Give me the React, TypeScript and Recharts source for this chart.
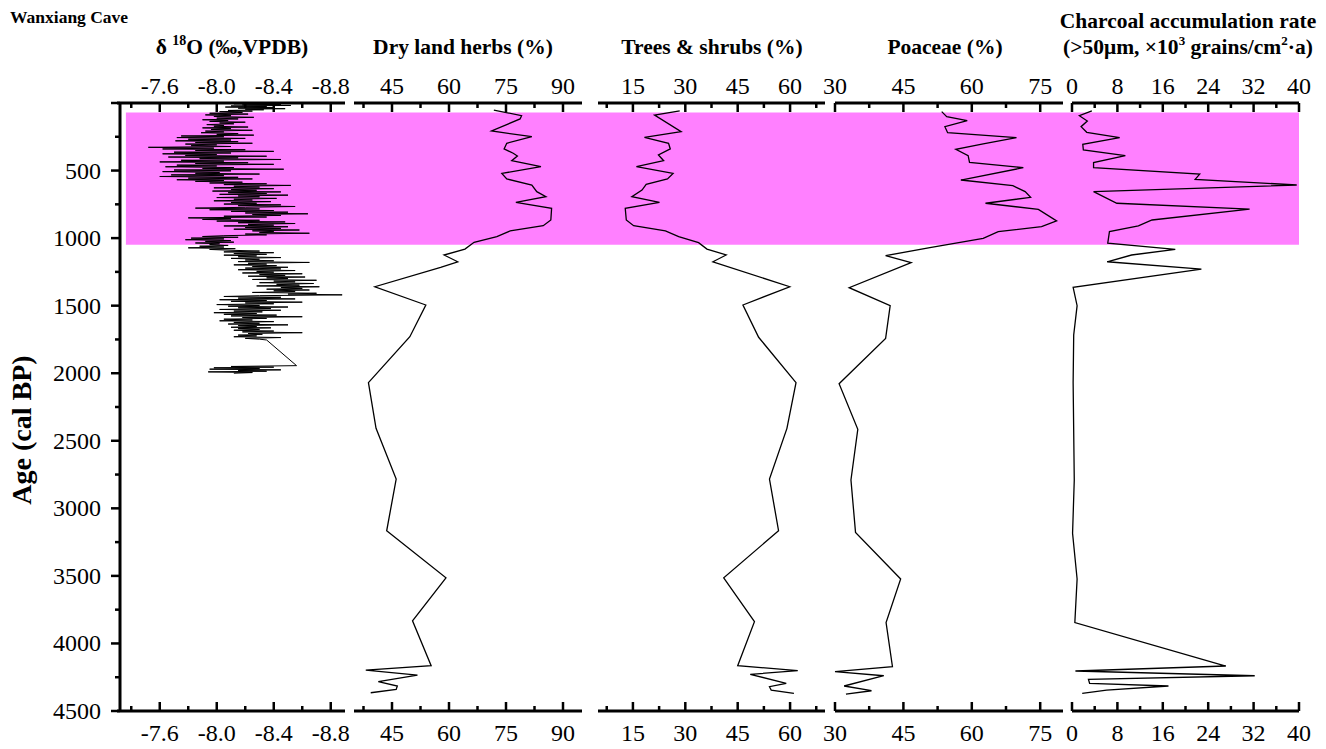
import React from 'react';
import { ComposedChart, Line, XAxis, YAxis, ReferenceArea } from 'recharts';

const W = 1326;
const H = 749;
const TOP = 103;
const BOTTOM = 711;
const AX = 30;
const FONT = "'Times New Roman', 'Liberation Serif', serif";
const TICK_FS = 24;

// ---------- Age axis ----------
const ageTicks = [0, 250, 500, 750, 1000, 1250, 1500, 1750, 2000, 2250, 2500, 2750, 3000, 3250, 3500, 3750, 4000, 4250, 4500];
const ageLabelled = [500, 1000, 1500, 2000, 2500, 3000, 3500, 4000, 4500];
const bandAges = [70, 1050];

// ---------- δ18O (Wanxiang Cave) ----------
const d18OMajor = [-7.6, -8.0, -8.4, -8.8];
const d18OMinor = [-7.4, -7.8, -8.2, -8.6];
const d18O: [number, number][] = [
  [2, -8.30], [6, -8.12], [10, -8.45], [14, -8.18], [18, -8.52], [22, -8.10], [26, -8.35], [30, -8.06], [34, -8.40], [38, -8.15], [42, -8.48], [46, -8.20], [50, -8.33], [55, -8.08], [60, -8.25], [64, -8.02],
  [70, -8.18], [76, -7.95], [82, -8.22], [88, -7.92], [94, -8.10], [100, -7.98], [106, -8.26], [112, -8.00], [118, -8.15], [124, -7.90], [130, -8.08], [136, -7.95], [142, -8.20], [148, -8.02], [154, -8.12], [160, -7.93], [166, -8.05], [172, -7.98], [178, -8.22], [184, -7.90], [190, -8.10], [196, -7.96], [202, -8.25], [208, -7.92], [214, -8.05], [220, -7.89], [226, -8.15], [232, -8.00],
  [238, -8.26], [244, -7.75], [250, -8.05], [256, -7.72], [262, -8.20], [268, -7.80], [274, -8.10], [280, -7.71], [286, -8.15], [292, -7.85], [298, -8.25], [304, -7.78], [310, -8.00], [316, -7.82], [322, -8.10], [328, -7.52], [334, -7.98],
  [340, -7.62], [346, -8.20], [352, -7.85], [358, -8.40], [364, -7.70], [370, -8.10], [376, -7.62], [382, -8.00], [388, -7.78], [394, -8.35], [400, -7.66], [406, -8.15], [412, -7.88], [418, -8.45], [424, -7.75], [430, -8.05], [436, -7.60], [442, -8.22], [448, -7.85], [454, -8.40], [460, -7.72], [466, -8.00], [472, -7.64], [478, -8.12], [484, -7.90], [490, -8.47], [496, -7.70], [502, -8.10], [508, -7.62], [514, -8.02], [520, -7.85], [526, -8.30], [532, -7.68], [538, -8.05], [544, -7.60], [550, -8.15], [556, -7.80], [562, -8.25], [568, -7.72], [574, -8.05], [580, -7.85], [586, -8.18], [592, -7.95],
  [598, -8.35], [604, -8.05], [610, -8.52], [616, -8.12], [622, -8.30], [628, -7.98], [634, -8.40], [640, -8.10], [646, -8.28], [652, -7.97], [658, -8.45], [664, -8.08], [670, -8.35], [676, -8.02], [682, -8.50], [688, -8.15], [694, -8.30], [700, -8.00], [706, -8.42], [712, -8.12], [718, -8.25], [724, -7.98], [730, -8.38], [736, -8.10], [742, -8.28], [748, -8.05], [754, -8.45],
  [760, -8.15], [766, -8.55], [772, -8.20], [778, -7.85], [784, -8.30], [790, -7.95], [796, -8.40], [802, -8.10], [808, -8.50], [814, -8.20], [820, -8.64], [826, -8.25], [832, -8.45], [838, -8.05], [844, -8.35], [850, -7.80], [856, -8.10], [862, -7.90], [868, -8.30], [874, -8.00], [880, -8.48], [886, -8.15], [892, -8.55], [898, -8.22], [904, -8.40], [910, -8.05], [916, -8.50], [922, -8.20], [928, -8.45], [934, -8.12], [940, -8.58], [946, -8.25], [952, -8.40], [958, -8.30], [964, -8.65], [970, -8.20], [976, -8.35], [982, -8.05],
  [988, -7.90], [994, -8.15], [1000, -7.82], [1006, -8.05], [1012, -7.78], [1018, -8.10], [1024, -7.92], [1030, -8.12], [1036, -7.85], [1042, -8.02], [1048, -7.95], [1054, -8.08], [1060, -7.88], [1066, -8.05], [1072, -7.80], [1078, -8.13], [1084, -7.95],
  [1090, -8.10], [1096, -8.30], [1102, -8.05], [1108, -8.40], [1114, -8.12], [1120, -8.35], [1126, -8.05], [1132, -8.28], [1138, -8.15], [1144, -8.45], [1150, -8.10], [1156, -8.30], [1162, -8.20], [1168, -8.40], [1174, -8.15], [1180, -8.65], [1186, -8.22], [1192, -8.35], [1198, -8.12], [1204, -8.42], [1210, -8.25], [1216, -8.50], [1222, -8.20],
  [1228, -8.45], [1234, -8.15], [1240, -8.55], [1246, -8.28], [1252, -8.40], [1258, -8.18], [1264, -8.60], [1270, -8.30], [1276, -8.48], [1282, -8.22], [1288, -8.62], [1294, -8.35], [1300, -8.50], [1306, -8.25], [1312, -8.70], [1318, -8.40], [1324, -8.55], [1330, -8.30], [1336, -8.68], [1342, -8.42], [1348, -8.58], [1354, -8.28], [1360, -8.72], [1366, -8.45], [1372, -8.60], [1378, -8.35], [1384, -8.65], [1390, -8.40], [1396, -8.55], [1402, -8.25], [1408, -8.70], [1414, -8.50], [1420, -8.88],
  [1426, -8.30], [1432, -8.05], [1438, -8.45], [1444, -8.15], [1450, -8.55], [1456, -8.02], [1462, -8.35], [1468, -8.10], [1474, -8.60], [1480, -8.20], [1486, -8.40], [1492, -8.00], [1498, -8.30], [1504, -8.08], [1510, -8.50], [1516, -8.15], [1522, -8.38], [1528, -8.02], [1534, -8.45], [1540, -8.12], [1546, -8.32], [1552, -7.98], [1558, -8.28], [1564, -8.05], [1570, -8.42], [1576, -8.10], [1582, -8.60], [1588, -8.18], [1594, -8.35], [1600, -8.05], [1606, -8.25], [1612, -8.02], [1618, -8.40], [1624, -8.12], [1630, -8.30], [1636, -8.08], [1642, -8.50], [1648, -8.15], [1654, -8.28], [1660, -8.10], [1664, -8.38],
  [1670, -8.15], [1676, -8.30], [1682, -8.12], [1688, -8.40], [1694, -8.18], [1700, -8.60], [1706, -8.22], [1712, -8.32], [1718, -8.15], [1724, -8.28], [1730, -8.12], [1736, -8.45], [1742, -8.20], [1748, -8.30], [1754, -8.35],
  [1944, -8.56], [1950, -8.10], [1955, -8.40], [1960, -7.98], [1965, -8.30], [1970, -7.95], [1975, -8.45], [1980, -8.15], [1985, -8.35], [1990, -7.94], [1995, -8.25], [2000, -8.12],
];

// ---------- Dry land herbs (%) ----------
const herbMajor = [45, 60, 75, 90];
const herbMinor = [37.5, 52.5, 67.5, 82.5];
const herbs: [number, number][] = [
  [52, 71.8], [94, 79.1], [118, 78.7], [207, 71.2], [249, 81.8], [298, 75.2], [340, 74.5], [372, 76.9], [392, 78], [427, 76.5], [471, 84.2], [521, 73.9], [562, 75.2], [607, 81.8], [656, 83.1], [693, 85.5], [735, 77.6], [780, 87], [866, 86.8], [908, 84.8], [947, 76.1], [989, 72.6], [1031, 66.6], [1081, 64.2], [1125, 58.7], [1175, 62.3], [1216, 57.8], [1360, 40.5], [1495, 53.9], [1730, 49.7], [2070, 38.8], [2408, 40.8], [2783, 46.1], [3166, 43.6], [3514, 59.2], [3832, 50.4], [4165, 55.3], [4197, 38.1], [4234, 51.7], [4283, 41.4], [4315, 46.4], [4340, 46.1], [4365, 39.4],
];

// ---------- Trees & shrubs (%) ----------
const treeMajor = [15, 30, 45, 60];
const treeMinor = [7.5, 22.5, 37.5, 52.5, 67.5];
const trees: [number, number][] = [
  [59, 28.4], [89, 21.2], [212, 28.8], [254, 18.3], [298, 25.2], [340, 25.7], [385, 22.3], [427, 23.8], [471, 16], [521, 26.5], [562, 24.9], [602, 18.8], [644, 17.6], [693, 14.7], [735, 22.6], [780, 12.8], [866, 13.1], [908, 15.2], [947, 24.3], [989, 28.1], [1034, 33.8], [1081, 36.2], [1125, 41.7], [1175, 37.9], [1360, 59.9], [1495, 46.5], [1734, 51], [2070, 61.7], [2408, 59.1], [2783, 54.1], [3166, 56.7], [3514, 41], [3839, 49.8], [4165, 45], [4201, 62.2], [4229, 48.6], [4295, 58.9], [4320, 54.1], [4345, 54.6], [4369, 61.1],
];

// ---------- Poaceae (%) ----------
const poaMajor = [30, 45, 60, 75];
const poaMinor = [37.5, 52.5, 67.5];
const poaceae: [number, number][] = [
  [64, 53.4], [101, 54.5], [131, 59], [175, 54.1], [220, 54.7], [257, 69.8], [303, 62.5], [343, 56.5], [390, 59.2], [439, 59.5], [479, 71.3], [570, 57.6], [612, 69], [656, 71.7], [698, 72.9], [742, 63], [787, 74.6], [873, 78.6], [915, 75.3], [952, 65.8], [1002, 62.5], [1071, 50.8], [1130, 41.1], [1182, 46.7], [1367, 33.1], [1500, 42.1], [1742, 41.1], [2078, 30.9], [2415, 35], [2790, 33.5], [3178, 34.5], [3523, 44.4], [3846, 41.2], [4172, 42.6], [4209, 30], [4239, 40.7], [4315, 32], [4350, 38], [4375, 32.4],
];

// ---------- Charcoal accumulation rate ----------
const charMajor = [0, 8, 16, 24, 32, 40];
const charMinor = [4, 12, 20, 28, 36];
const charcoal: [number, number][] = [
  [59, 3.5], [94, 1.3], [133, 2.7], [175, 1.6], [217, 2.6], [257, 8.4], [306, 1.9], [348, 2], [390, 9.4], [441, 3.8], [479, 3.8], [526, 22.5], [565, 21.7], [607, 39.6], [656, 3.8], [742, 7.9], [785, 31.3], [866, 14.1], [910, 11.7], [952, 6.6], [1038, 6.3], [1083, 18.2], [1125, 10.5], [1175, 6.2], [1229, 22.8], [1364, 0.2], [1500, 0.9], [1717, 0.3], [2070, 0.2], [2790, 0.4], [3185, 0.1], [3523, 0.9], [3846, 0.5], [4167, 27.1], [4204, 0.6], [4239, 32.2], [4266, 2.9], [4295, 3.1], [4315, 17], [4345, 6.1], [4369, 1.8],
];

type Panel = {
  key: string;
  left: number;
  right: number;
  domain: [number, number];
  reversed: boolean;
  major: number[];
  minor: number[];
  fmt: (v: number) => string;
  series: [number, number][];
  width: number;
};

const panels: Panel[] = [
  { key: 'd18o', left: 117, right: 345, domain: [-8.9, -7.3], reversed: true, major: d18OMajor, minor: d18OMinor, fmt: (v) => v.toFixed(1), series: d18O, width: 1 },
  { key: 'herbs', left: 354, right: 582, domain: [35, 95], reversed: false, major: herbMajor, minor: herbMinor, fmt: (v) => String(v), series: herbs, width: 1.3 },
  { key: 'trees', left: 598, right: 825, domain: [5, 70], reversed: false, major: treeMajor, minor: treeMinor, fmt: (v) => String(v), series: trees, width: 1.3 },
  { key: 'poaceae', left: 835, right: 1063, domain: [30, 80], reversed: false, major: poaMajor, minor: poaMinor, fmt: (v) => String(v), series: poaceae, width: 1.3 },
  { key: 'charcoal', left: 1072, right: 1299, domain: [0, 40], reversed: false, major: charMajor, minor: charMinor, fmt: (v) => String(v), series: charcoal, width: 1.3 },
];

const isIn = (arr: number[], v: number) => arr.some((m) => Math.abs(m - v) < 1e-6);

const makeXTick = (side: 'top' | 'bottom', major: number[], fmt: (v: number) => string) => (props: any) => {
  const { x, y, payload } = props;
  const v = payload.value as number;
  const isMajor = isIn(major, v);
  const len = isMajor ? 9 : 5;
  const dir = side === 'top' ? 1 : -1;
  return (
    <g>
      <line x1={x} y1={y} x2={x} y2={y + dir * len} stroke="#000" strokeWidth={2.5} />
      {isMajor && (
        <text x={x} y={side === 'top' ? y - 9 : y + 30} textAnchor="middle" fontFamily={FONT} fontSize={TICK_FS} fill="#000">
          {fmt(v)}
        </text>
      )}
    </g>
  );
};

const YTick = (props: any) => {
  const { x, y, payload } = props;
  const v = payload.value as number;
  const major = v % 500 === 0;
  const len = major ? 9 : 5;
  return (
    <g>
      <line x1={x} y1={y} x2={x - len} y2={y} stroke="#000" strokeWidth={2.5} />
      {ageLabelled.includes(v) && (
        <text x={x - 19} y={y + 8} textAnchor="end" fontFamily={FONT} fontSize={TICK_FS} fill="#000">
          {v}
        </text>
      )}
    </g>
  );
};

const baseData = [
  { age: 0, x: 0 },
  { age: 4500, x: 1 },
];

const abs: React.CSSProperties = { position: 'absolute', left: 0, top: 0 };

function PanelChart({ p }: { p: Panel }) {
  const data = p.series.map(([age, v]) => ({ age, v }));
  const ticks = [...p.major, ...p.minor].sort((a, b) => a - b);
  return (
    <div style={abs}>
      <ComposedChart
        width={W}
        height={H}
        layout="vertical"
        data={data}
        margin={{ top: TOP - AX, bottom: H - BOTTOM - AX, left: p.left, right: W - p.right }}
      >
        <XAxis
          xAxisId="top"
          orientation="top"
          type="number"
          domain={p.domain}
          reversed={p.reversed}
          ticks={ticks}
          interval={0}
          height={AX}
          tickSize={0}
          tickMargin={0}
          axisLine={{ stroke: '#000', strokeWidth: 3 }}
          tickLine={false}
          tick={makeXTick('top', p.major, p.fmt)}
        />
        <XAxis
          xAxisId="bottom"
          orientation="bottom"
          type="number"
          domain={p.domain}
          reversed={p.reversed}
          ticks={ticks}
          interval={0}
          height={AX}
          tickSize={0}
          tickMargin={0}
          axisLine={{ stroke: '#000', strokeWidth: 3 }}
          tickLine={false}
          tick={makeXTick('bottom', p.major, p.fmt)}
        />
        <YAxis type="number" dataKey="age" domain={[0, 4500]} hide width={0} />
        <Line
          xAxisId="bottom"
          type="linear"
          dataKey="v"
          stroke="none"
          dot={false}
          activeDot={false}
          isAnimationActive={false}
        />
        <Line
          xAxisId="top"
          type="linear"
          dataKey="v"
          stroke="#000"
          strokeWidth={p.width}
          dot={false}
          activeDot={false}
          isAnimationActive={false}
        />
      </ComposedChart>
    </div>
  );
}

export default function App() {
  return (
    <div style={{ position: 'absolute', left: 0, top: 0, width: W, height: H, background: '#fff', fontFamily: FONT }}>
      <div style={abs}>
        <ComposedChart
          width={W}
          height={H}
          layout="vertical"
          data={baseData}
          margin={{ top: TOP, bottom: H - BOTTOM, left: 120 - 60, right: W - 1299 }}
        >
          <XAxis type="number" domain={[0, 1]} hide />
          <YAxis
            type="number"
            dataKey="age"
            domain={[0, 4500]}
            ticks={ageTicks}
            interval={0}
            width={60}
            tickSize={0}
            tickMargin={0}
            axisLine={{ stroke: '#000', strokeWidth: 3 }}
            tickLine={false}
            tick={YTick}
          />
          <ReferenceArea x1={0.005} x2={1} y1={bandAges[0]} y2={bandAges[1]} fill="#FF80FF" fillOpacity={1} stroke="none" />
          <Line dataKey="x" stroke="none" dot={false} activeDot={false} isAnimationActive={false} />
        </ComposedChart>
      </div>
      {panels.map((p) => (
        <PanelChart key={p.key} p={p} />
      ))}
      <svg style={{ ...abs, pointerEvents: 'none' }} width={W} height={H}>
        <g fontFamily={FONT} fill="#000" fontWeight="bold">
          <text x={10} y={23} fontSize={17.5}>Wanxiang Cave</text>
          <text x={232} y={54} fontSize={21.5} textAnchor="middle">
            δ <tspan fontSize={14} dy={-9}>18</tspan>
            <tspan dy={9}>O (‰,VPDB)</tspan>
          </text>
          <text x={463} y={54} fontSize={21.5} textAnchor="middle">Dry land herbs (%)</text>
          <text x={712} y={54} fontSize={21.5} textAnchor="middle">Trees &amp; shrubs (%)</text>
          <text x={945} y={54} fontSize={21.5} textAnchor="middle">Poaceae (%)</text>
          <text x={1188} y={28} fontSize={21.5} textAnchor="middle">Charcoal accumulation rate</text>
          <text x={1188} y={54} fontSize={21.5} textAnchor="middle">
            (&gt;50μm, ×10<tspan fontSize={13} dy={-9}>3</tspan>
            <tspan dy={9}> grains/cm</tspan>
            <tspan fontSize={13} dy={-9}>2</tspan>
            <tspan dy={9}>·a)</tspan>
          </text>
          <text transform="translate(31,430) rotate(-90)" fontSize={28} textAnchor="middle">Age (cal BP)</text>
        </g>
      </svg>
    </div>
  );
}
